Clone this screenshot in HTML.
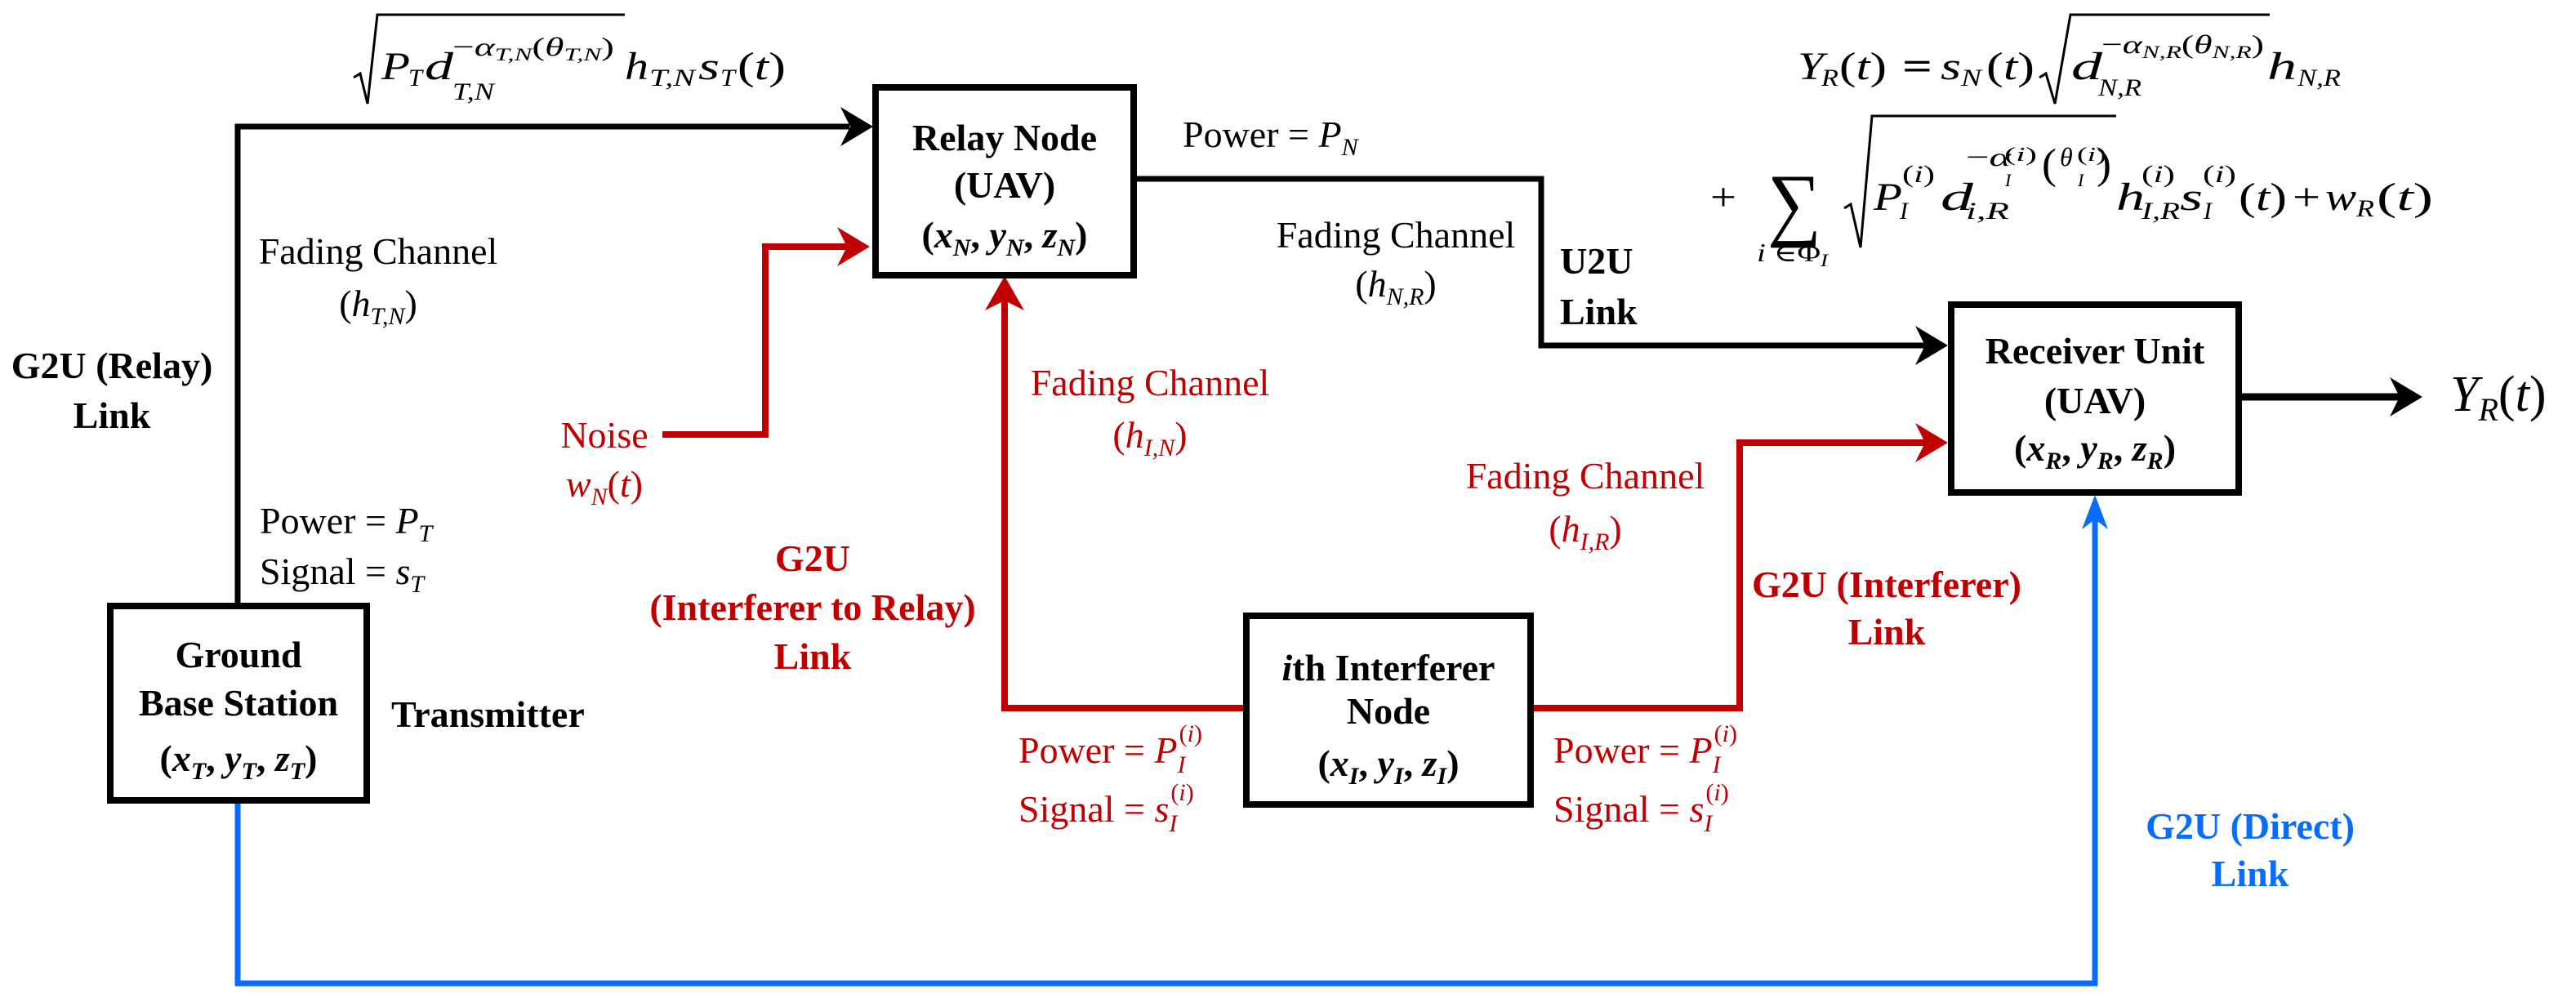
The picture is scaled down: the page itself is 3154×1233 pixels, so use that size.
<!DOCTYPE html>
<html><head><meta charset="utf-8"><style>
html,body{margin:0;padding:0;background:#fff;}
svg{display:block;}
svg text{font-family:"Liberation Serif","Times New Roman","DejaVu Serif",serif;}
.t{font-size:46px;}
.b{font-weight:bold;font-size:46px;}
.m{font-style:italic;}
</style></head><body>
<svg width="3154" height="1233" viewBox="0 0 3154 1233" xmlns="http://www.w3.org/2000/svg" font-family="Liberation Serif, Times New Roman, serif">
<defs>
<g id="ar"><polygon points="0,0 -40,-24 -28,0 -40,24"/></g>
</defs>
<!-- black connectors -->
<g fill="none" stroke="#000" stroke-width="7">
<polyline points="291,740 291,155 1040,155"/>
<polyline points="1390,219 1887,219 1887,423 2360,423"/>
<line x1="2744" y1="486" x2="2940" y2="486" stroke-width="9"/>
</g>
<use href="#ar" x="1069" y="155"/>
<use href="#ar" x="2385" y="423"/>
<use href="#ar" x="2966" y="486"/>
<!-- red connectors -->
<g fill="none" stroke="#c00000" stroke-width="8">
<polyline points="811,532 937,532 937,302 1040,302"/>
<polyline points="1523,867 1230,867 1230,365"/>
<polyline points="1877,867 2130,867 2130,542 2360,542"/>
</g>
<g fill="#c00000">
<use href="#ar" x="1065" y="302"/>
<use href="#ar" x="2385" y="542"/>
<polygon points="1230,338 1206,380 1230,368 1254,380"/>
</g>
<!-- blue -->
<polyline points="291,980 291,1204 2565,1204 2565,635" fill="none" stroke="#0a6cff" stroke-width="7"/>
<polygon points="2565,606 2549,648 2565,636 2581,648" fill="#0a6cff"/>
<!-- boxes -->
<g fill="#fff" stroke="#000" stroke-width="8">
<rect x="135" y="742" width="314" height="238"/>
<rect x="1072" y="107" width="316" height="230"/>
<rect x="2389" y="373" width="352" height="230"/>
<rect x="1526" y="754" width="348" height="231"/>
</g>
<!-- box texts -->
<g text-anchor="middle" class="b">
<text x="292" y="817">Ground</text>
<text x="292" y="876">Base Station</text>
<text x="292" y="944">(<tspan class="m">x</tspan><tspan class="m" font-size="30" dy="10">T</tspan><tspan dy="-10">, </tspan><tspan class="m">y</tspan><tspan class="m" font-size="30" dy="10">T</tspan><tspan dy="-10">, </tspan><tspan class="m">z</tspan><tspan class="m" font-size="30" dy="10">T</tspan><tspan dy="-10">)</tspan></text>
<text x="1230" y="184">Relay Node</text>
<text x="1230" y="242">(UAV)</text>
<text x="1230" y="303">(<tspan class="m">x</tspan><tspan class="m" font-size="30" dy="10">N</tspan><tspan dy="-10">, </tspan><tspan class="m">y</tspan><tspan class="m" font-size="30" dy="10">N</tspan><tspan dy="-10">, </tspan><tspan class="m">z</tspan><tspan class="m" font-size="30" dy="10">N</tspan><tspan dy="-10">)</tspan></text>
<text x="2565" y="445">Receiver Unit</text>
<text x="2565" y="506">(UAV)</text>
<text x="2565" y="564">(<tspan class="m">x</tspan><tspan class="m" font-size="30" dy="10">R</tspan><tspan dy="-10">, </tspan><tspan class="m">y</tspan><tspan class="m" font-size="30" dy="10">R</tspan><tspan dy="-10">, </tspan><tspan class="m">z</tspan><tspan class="m" font-size="30" dy="10">R</tspan><tspan dy="-10">)</tspan></text>
<text x="1700" y="833"><tspan class="m">i</tspan>th Interferer</text>
<text x="1700" y="886">Node</text>
<text x="1700" y="950">(<tspan class="m">x</tspan><tspan class="m" font-size="30" dy="10">I</tspan><tspan dy="-10">, </tspan><tspan class="m">y</tspan><tspan class="m" font-size="30" dy="10">I</tspan><tspan dy="-10">, </tspan><tspan class="m">z</tspan><tspan class="m" font-size="30" dy="10">I</tspan><tspan dy="-10">)</tspan></text>
</g>
<!-- black labels -->
<g class="t" text-anchor="middle">
<text x="463" y="323">Fading Channel</text>
<text x="463" y="387">(<tspan class="m">h</tspan><tspan class="m" font-size="30" dy="10">T,N</tspan><tspan dy="-10">)</tspan></text>
<text x="1709" y="303">Fading Channel</text>
<text x="1709" y="363">(<tspan class="m">h</tspan><tspan class="m" font-size="30" dy="10">N,R</tspan><tspan dy="-10">)</tspan></text>
</g>
<g class="b" text-anchor="middle">
<text x="137" y="463">G2U (Relay)</text>
<text x="137" y="524">Link</text>
</g>
<g class="b">
<text x="1910" y="335">U2U</text>
<text x="1910" y="397">Link</text>
<text x="479" y="890">Transmitter</text>
</g>
<g class="t">
<text x="318" y="653">Power = <tspan class="m">P</tspan><tspan class="m" font-size="30" dy="10">T</tspan></text>
<text x="318" y="715">Signal = <tspan class="m">s</tspan><tspan class="m" font-size="30" dy="10">T</tspan></text>
<text x="1448" y="180">Power = <tspan class="m">P</tspan><tspan class="m" font-size="30" dy="10">N</tspan></text>
</g>
<!-- red labels -->
<g class="t" fill="#c00000" text-anchor="middle">
<text x="740" y="548">Noise</text>
<text x="740" y="608"><tspan class="m">w</tspan><tspan class="m" font-size="30" dy="10">N</tspan><tspan dy="-10">(</tspan><tspan class="m">t</tspan>)</text>
<text x="1408" y="484">Fading Channel</text>
<text x="1408" y="548">(<tspan class="m">h</tspan><tspan class="m" font-size="30" dy="10">I,N</tspan><tspan dy="-10">)</tspan></text>
<text x="1941" y="598">Fading Channel</text>
<text x="1941" y="663">(<tspan class="m">h</tspan><tspan class="m" font-size="30" dy="10">I,R</tspan><tspan dy="-10">)</tspan></text>
</g>
<g class="t" fill="#c00000">
<text x="1247" y="934">Power = <tspan class="m">P</tspan><tspan class="m" font-size="30" dy="12">I</tspan><tspan font-size="30" dx="-8" dy="-38">(<tspan class="m">i</tspan>)</tspan></text>
<text x="1247" y="1006">Signal = <tspan class="m">s</tspan><tspan class="m" font-size="30" dy="12">I</tspan><tspan font-size="30" dx="-8" dy="-38">(<tspan class="m">i</tspan>)</tspan></text>
<text x="1902" y="934">Power = <tspan class="m">P</tspan><tspan class="m" font-size="30" dy="12">I</tspan><tspan font-size="30" dx="-8" dy="-38">(<tspan class="m">i</tspan>)</tspan></text>
<text x="1902" y="1006">Signal = <tspan class="m">s</tspan><tspan class="m" font-size="30" dy="12">I</tspan><tspan font-size="30" dx="-8" dy="-38">(<tspan class="m">i</tspan>)</tspan></text>
</g>
<g class="b" fill="#c00000" text-anchor="middle">
<text x="995" y="699">G2U</text>
<text x="995" y="759">(Interferer to Relay)</text>
<text x="995" y="819">Link</text>
<text x="2310" y="731">G2U (Interferer)</text>
<text x="2310" y="789">Link</text>
</g>
<g class="b" fill="#0a6cff" text-anchor="middle">
<text x="2755" y="1027">G2U (Direct)</text>
<text x="2755" y="1085">Link</text>
</g>
<!-- output label -->
<text x="3000" y="503" font-size="62"><tspan class="m">Y</tspan><tspan class="m" font-size="40" dy="12">R</tspan><tspan dy="-12">(</tspan><tspan class="m">t</tspan>)</text>
<!-- radicals -->
<g fill="none" stroke="#000" stroke-width="3">
<polyline points="433,95 441,90 450,127 462,18 765,18"/>
<polyline points="2497,95 2505,90 2516,127 2535,18 2779,18"/>
<polyline points="2258,255 2266,250 2278,303 2292,142 2591,142"/>
</g>
<!-- top formula -->
<g font-size="48" lengthAdjust="spacingAndGlyphs">
<text x="467" y="97" class="m" textLength="35" lengthAdjust="spacingAndGlyphs">P</text>
<text x="500" y="105" class="m" font-size="30" textLength="17" lengthAdjust="spacingAndGlyphs">T</text>
<text x="520" y="97" class="m" textLength="35" lengthAdjust="spacingAndGlyphs">d</text>
<text x="554" y="122" class="m" font-size="30" textLength="51" lengthAdjust="spacingAndGlyphs">T,N</text>
<text x="554" y="68" font-size="32" textLength="198" lengthAdjust="spacingAndGlyphs"><tspan>−</tspan><tspan class="m">α</tspan><tspan class="m" font-size="22" dy="6">T,N</tspan><tspan dy="-6">(</tspan><tspan class="m">θ</tspan><tspan class="m" font-size="22" dy="6">T,N</tspan><tspan dy="-6">)</tspan></text>
<text x="765" y="97" class="m" textLength="29" lengthAdjust="spacingAndGlyphs">h</text>
<text x="795" y="105" class="m" font-size="30" textLength="56" lengthAdjust="spacingAndGlyphs">T,N</text>
<text x="855" y="97" class="m" textLength="26" lengthAdjust="spacingAndGlyphs">s</text>
<text x="882" y="105" class="m" font-size="30" textLength="18" lengthAdjust="spacingAndGlyphs">T</text>
<text x="903" y="97" textLength="59" lengthAdjust="spacingAndGlyphs">(<tspan class="m">t</tspan>)</text>
</g>
<!-- right formula line 1 -->
<g font-size="48">
<text x="2201" y="97" class="m" textLength="32" lengthAdjust="spacingAndGlyphs">Y</text>
<text x="2230" y="105" class="m" font-size="30" textLength="21" lengthAdjust="spacingAndGlyphs">R</text>
<text x="2252" y="97" textLength="58" lengthAdjust="spacingAndGlyphs">(<tspan class="m">t</tspan>)</text>
<text x="2329" y="97" font-weight="bold" textLength="37" lengthAdjust="spacingAndGlyphs">=</text>
<text x="2376" y="97" class="m" textLength="25" lengthAdjust="spacingAndGlyphs">s</text>
<text x="2401" y="105" class="m" font-size="30" textLength="25" lengthAdjust="spacingAndGlyphs">N</text>
<text x="2432" y="97" textLength="59" lengthAdjust="spacingAndGlyphs">(<tspan class="m">t</tspan>)</text>
<text x="2536" y="97" class="m" textLength="38" lengthAdjust="spacingAndGlyphs">d</text>
<text x="2569" y="117" class="m" font-size="30" textLength="53" lengthAdjust="spacingAndGlyphs">N,R</text>
<text x="2573" y="65" font-size="32" textLength="199" lengthAdjust="spacingAndGlyphs"><tspan>−</tspan><tspan class="m">α</tspan><tspan class="m" font-size="22" dy="6">N,R</tspan><tspan dy="-6">(</tspan><tspan class="m">θ</tspan><tspan class="m" font-size="22" dy="6">N,R</tspan><tspan dy="-6">)</tspan></text>
<text x="2776" y="97" class="m" textLength="36" lengthAdjust="spacingAndGlyphs">h</text>
<text x="2813" y="105" class="m" font-size="30" textLength="53" lengthAdjust="spacingAndGlyphs">N,R</text>
</g>
<!-- right formula line 2 -->
<g font-size="48">
<text x="2094" y="257" textLength="32" lengthAdjust="spacingAndGlyphs">+</text>
<text x="2164" y="282" font-size="100" textLength="66" lengthAdjust="spacingAndGlyphs">∑</text>
<text x="2151" y="320" font-size="32" textLength="87" lengthAdjust="spacingAndGlyphs"><tspan class="m">i</tspan> ∈Φ<tspan class="m" font-size="22" dy="6">I</tspan></text>
<text x="2294" y="257" class="m" textLength="35" lengthAdjust="spacingAndGlyphs">P</text>
<text x="2326" y="268" class="m" font-size="30">I</text>
<text x="2329" y="223" font-size="30" textLength="40" lengthAdjust="spacingAndGlyphs">(<tspan class="m">i</tspan>)</text>
<text x="2376" y="257" class="m" textLength="40" lengthAdjust="spacingAndGlyphs">d</text>
<text x="2407" y="268" class="m" font-size="30" textLength="53" lengthAdjust="spacingAndGlyphs">i,R</text>
<text x="2407" y="203" font-size="32" textLength="55" lengthAdjust="spacingAndGlyphs">−<tspan class="m">α</tspan></text>
<text x="2455" y="228" class="m" font-size="22">I</text>
<text x="2454" y="197" font-size="24" textLength="40" lengthAdjust="spacingAndGlyphs">(<tspan class="m">i</tspan>)</text>
<text x="2500" y="218" font-size="52" textLength="18" lengthAdjust="spacingAndGlyphs">(</text>
<text x="2522" y="203" class="m" font-size="32">θ</text>
<text x="2544" y="228" class="m" font-size="22">I</text>
<text x="2543" y="197" font-size="24" textLength="36" lengthAdjust="spacingAndGlyphs">(<tspan class="m">i</tspan>)</text>
<text x="2567" y="218" font-size="52" textLength="18" lengthAdjust="spacingAndGlyphs">)</text>
<text x="2591" y="257" class="m" textLength="35" lengthAdjust="spacingAndGlyphs">h</text>
<text x="2622" y="268" class="m" font-size="30" textLength="47" lengthAdjust="spacingAndGlyphs">I,R</text>
<text x="2622" y="223" font-size="30" textLength="41" lengthAdjust="spacingAndGlyphs">(<tspan class="m">i</tspan>)</text>
<text x="2669" y="257" class="m" textLength="28" lengthAdjust="spacingAndGlyphs">s</text>
<text x="2698" y="268" class="m" font-size="30">I</text>
<text x="2697" y="223" font-size="30" textLength="41" lengthAdjust="spacingAndGlyphs">(<tspan class="m">i</tspan>)</text>
<text x="2741" y="257" textLength="59" lengthAdjust="spacingAndGlyphs">(<tspan class="m">t</tspan>)</text>
<text x="2807" y="257" textLength="34" lengthAdjust="spacingAndGlyphs">+</text>
<text x="2847" y="257" class="m" textLength="38" lengthAdjust="spacingAndGlyphs">w</text>
<text x="2885" y="265" class="m" font-size="30" textLength="22" lengthAdjust="spacingAndGlyphs">R</text>
<text x="2910" y="257" textLength="69" lengthAdjust="spacingAndGlyphs">(<tspan class="m">t</tspan>)</text>
</g>
</svg>
</body></html>
